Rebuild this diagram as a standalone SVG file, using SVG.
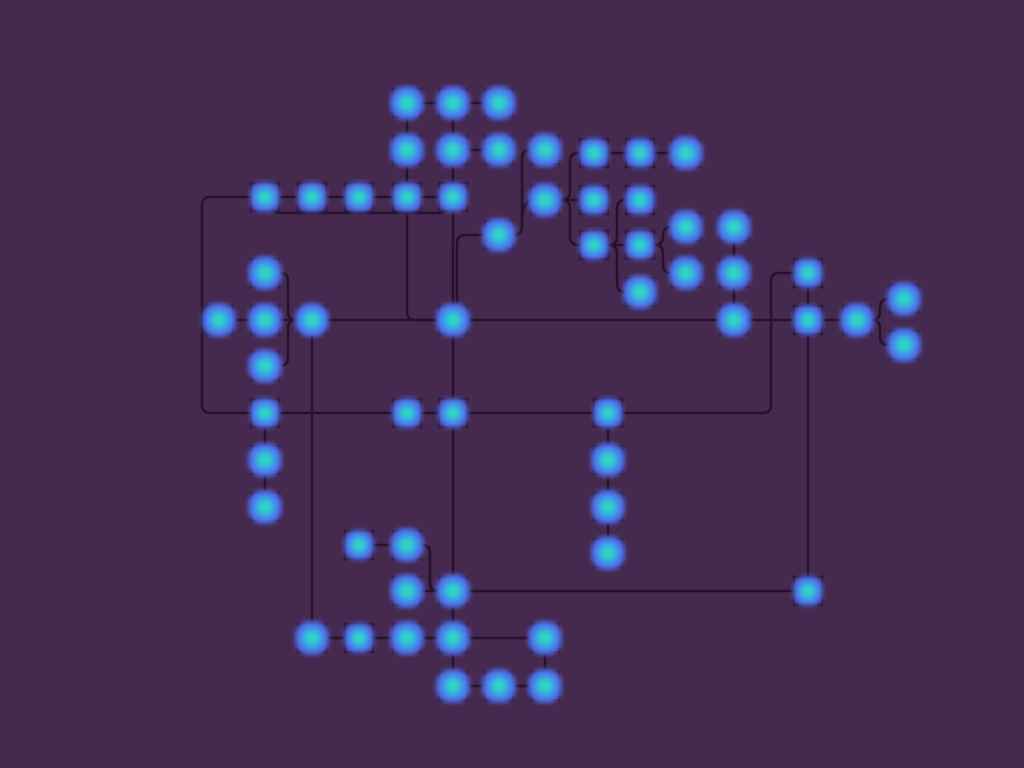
<svg xmlns="http://www.w3.org/2000/svg" xmlns:xlink="http://www.w3.org/1999/xlink" width="1024" height="768" viewBox="0 0 1024 768">
<style>
.edge{fill:none;stroke:#26122c;stroke-width:2.5;stroke-linecap:round;stroke-linejoin:round}
</style>
<defs>
<radialGradient id="g" cx="50%" cy="50%" r="55%">
<stop offset="0" stop-color="#2ee6b8"/>
<stop offset="0.3" stop-color="#30c8d0"/>
<stop offset="0.6" stop-color="#4586f0"/>
<stop offset="0.85" stop-color="#5066e0"/>
<stop offset="1" stop-color="#5a52c8"/>
</radialGradient>
<filter id="b" x="-40%" y="-40%" width="180%" height="180%"><feGaussianBlur stdDeviation="2.2"/></filter>
<g id="nd">
<rect x="-14" y="-14" width="28" height="28" fill="none" stroke="#26122c" stroke-width="2.5" opacity="0.75"/>
<rect x="-17" y="-17" width="34" height="34" rx="14" fill="url(#g)" filter="url(#b)"/>
</g>
<g id="ns">
<rect x="-14" y="-14" width="28" height="28" fill="none" stroke="#26122c" stroke-width="2.5" opacity="0.75"/>
<rect x="-15" y="-15" width="30" height="30" rx="11" fill="url(#g)" filter="url(#b)"/>
</g>
</defs>
<rect width="1024" height="768" fill="#45294e"/>
<g id="connectors">
<path class="edge" d="M407,103 H499"/>
<path class="edge" d="M407,103 V197"/>
<path class="edge" d="M453,103 V320"/>
<path class="edge" d="M453,150 H499"/>
<path class="edge" d="M265,197 H453"/>
<path class="edge" d="M268,205 Q272,213 282,213 H438 Q448,213 452,203"/>
<path class="edge" d="M265,197 H210 Q202,197 202,205 V405 Q202,413 210,413 H608"/>
<path class="edge" d="M407,197 V312 Q407,320 415,320 H453"/>
<path class="edge" d="M499,235 H465 Q457,235 457,243 V320"/>
<path class="edge" d="M499,235 H514 Q522,235 522,227 V158 Q522,150 530,150 H545"/>
<path class="edge" d="M522,220 Q522,200 535,200 H545"/>
<path class="edge" d="M545,200 H594"/>
<path class="edge" d="M562,200 Q570,200 570,192 V161 Q570,153 578,153 H686"/>
<path class="edge" d="M562,200 Q570,200 570,208 V237 Q570,245 578,245 H640"/>
<path class="edge" d="M609,245 Q617,245 617,237 V208 Q617,200 625,200 H640"/>
<path class="edge" d="M609,245 Q617,245 617,253 V284 Q617,292 625,292 H640"/>
<path class="edge" d="M640,245 H655 Q663,245 663,237 V235 Q663,227 671,227 H686"/>
<path class="edge" d="M640,245 H655 Q663,245 663,253 V265 Q663,273 671,273 H686"/>
<path class="edge" d="M734,227 V320"/>
<path class="edge" d="M219,320 H857"/>
<path class="edge" d="M265,273 H280 Q288,273 288,281 V312 Q288,320 296,320"/>
<path class="edge" d="M265,366 H280 Q288,366 288,358 V328 Q288,320 296,320"/>
<path class="edge" d="M312,320 V638"/>
<path class="edge" d="M453,320 V686"/>
<path class="edge" d="M808,273 V591"/>
<path class="edge" d="M608,413 H763 Q771,413 771,405 V281 Q771,273 779,273 H808"/>
<path class="edge" d="M265,413 V507"/>
<path class="edge" d="M608,413 V553"/>
<path class="edge" d="M359,545 H407"/>
<path class="edge" d="M407,545 H422 Q430,545 430,553 V583 Q430,591 438,591"/>
<path class="edge" d="M407,591 H808"/>
<path class="edge" d="M312,638 H545 V686"/>
<path class="edge" d="M453,686 H545"/>
<path class="edge" d="M857,320 H872 Q880,320 880,312 V307 Q880,299 888,299 H904"/>
<path class="edge" d="M857,320 H872 Q880,320 880,328 V337 Q880,345 888,345 H904"/>
</g>
<g id="n1"><use xlink:href="#nd" x="407" y="103"/></g>
<g id="n2"><use xlink:href="#nd" x="453" y="103"/></g>
<g id="n3"><use xlink:href="#nd" x="499" y="103"/></g>
<g id="n4"><use xlink:href="#nd" x="407" y="150"/></g>
<g id="n5"><use xlink:href="#nd" x="453" y="150"/></g>
<g id="n6"><use xlink:href="#nd" x="499" y="150"/></g>
<g id="n7"><use xlink:href="#nd" x="545" y="150"/></g>
<g id="n8"><use xlink:href="#ns" x="265" y="197"/></g>
<g id="n9"><use xlink:href="#ns" x="312" y="197"/></g>
<g id="n10"><use xlink:href="#ns" x="359" y="197"/></g>
<g id="n11"><use xlink:href="#ns" x="407" y="197"/></g>
<g id="n12"><use xlink:href="#ns" x="453" y="197"/></g>
<g id="n13"><use xlink:href="#nd" x="545" y="200"/></g>
<g id="n14"><use xlink:href="#ns" x="594" y="153"/></g>
<g id="n15"><use xlink:href="#ns" x="640" y="153"/></g>
<g id="n16"><use xlink:href="#nd" x="686" y="153"/></g>
<g id="n17"><use xlink:href="#ns" x="594" y="200"/></g>
<g id="n18"><use xlink:href="#ns" x="640" y="200"/></g>
<g id="n19"><use xlink:href="#nd" x="499" y="235"/></g>
<g id="n20"><use xlink:href="#ns" x="594" y="245"/></g>
<g id="n21"><use xlink:href="#ns" x="640" y="245"/></g>
<g id="n22"><use xlink:href="#nd" x="686" y="227"/></g>
<g id="n23"><use xlink:href="#nd" x="734" y="227"/></g>
<g id="n24"><use xlink:href="#nd" x="686" y="273"/></g>
<g id="n25"><use xlink:href="#nd" x="734" y="273"/></g>
<g id="n26"><use xlink:href="#nd" x="640" y="292"/></g>
<g id="n27"><use xlink:href="#nd" x="265" y="273"/></g>
<g id="n28"><use xlink:href="#ns" x="808" y="273"/></g>
<g id="n29"><use xlink:href="#nd" x="219" y="320"/></g>
<g id="n30"><use xlink:href="#nd" x="265" y="320"/></g>
<g id="n31"><use xlink:href="#nd" x="312" y="320"/></g>
<g id="n32"><use xlink:href="#nd" x="453" y="320"/></g>
<g id="n33"><use xlink:href="#nd" x="734" y="320"/></g>
<g id="n34"><use xlink:href="#ns" x="808" y="320"/></g>
<g id="n35"><use xlink:href="#nd" x="857" y="320"/></g>
<g id="n36"><use xlink:href="#nd" x="904" y="299"/></g>
<g id="n37"><use xlink:href="#nd" x="904" y="345"/></g>
<g id="n38"><use xlink:href="#nd" x="265" y="366"/></g>
<g id="n39"><use xlink:href="#ns" x="265" y="413"/></g>
<g id="n40"><use xlink:href="#ns" x="407" y="413"/></g>
<g id="n41"><use xlink:href="#ns" x="453" y="413"/></g>
<g id="n42"><use xlink:href="#ns" x="608" y="413"/></g>
<g id="n43"><use xlink:href="#nd" x="265" y="460"/></g>
<g id="n44"><use xlink:href="#nd" x="608" y="460"/></g>
<g id="n45"><use xlink:href="#nd" x="265" y="507"/></g>
<g id="n46"><use xlink:href="#nd" x="608" y="507"/></g>
<g id="n47"><use xlink:href="#ns" x="359" y="545"/></g>
<g id="n48"><use xlink:href="#nd" x="407" y="545"/></g>
<g id="n49"><use xlink:href="#nd" x="608" y="553"/></g>
<g id="n50"><use xlink:href="#nd" x="407" y="591"/></g>
<g id="n51"><use xlink:href="#nd" x="453" y="591"/></g>
<g id="n52"><use xlink:href="#ns" x="808" y="591"/></g>
<g id="n53"><use xlink:href="#nd" x="312" y="638"/></g>
<g id="n54"><use xlink:href="#ns" x="359" y="638"/></g>
<g id="n55"><use xlink:href="#nd" x="407" y="638"/></g>
<g id="n56"><use xlink:href="#nd" x="453" y="638"/></g>
<g id="n57"><use xlink:href="#nd" x="545" y="638"/></g>
<g id="n58"><use xlink:href="#nd" x="453" y="686"/></g>
<g id="n59"><use xlink:href="#nd" x="499" y="686"/></g>
<g id="n60"><use xlink:href="#nd" x="545" y="686"/></g>
</svg>
